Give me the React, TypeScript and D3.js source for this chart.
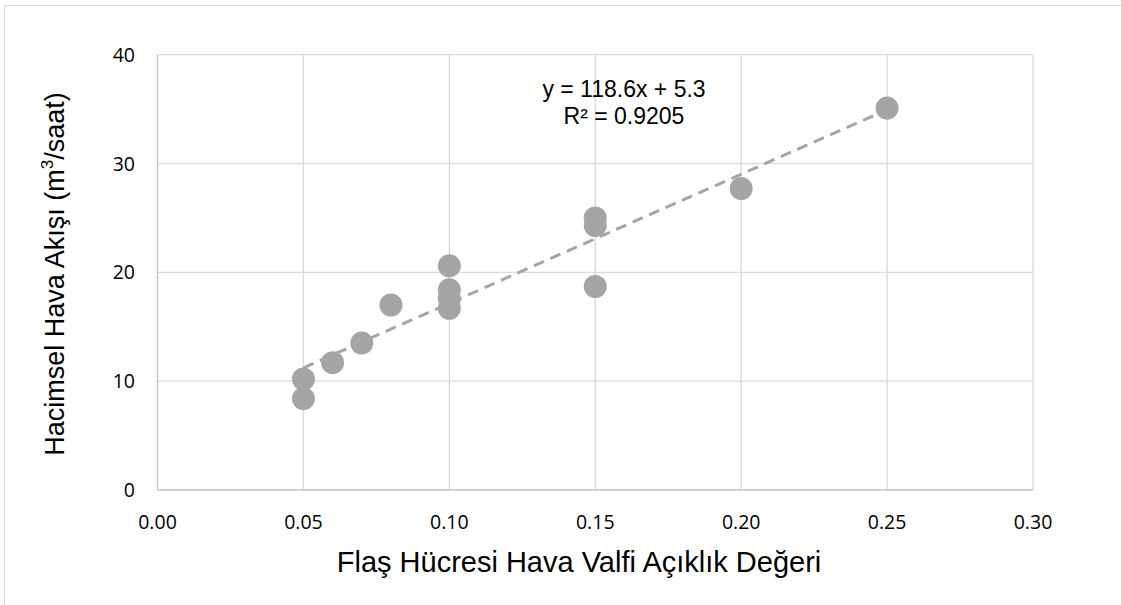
import React from "react";
import * as d3 from "d3";

const xValues = [0.05, 0.05, 0.06, 0.07, 0.08, 0.1, 0.1, 0.1, 0.1, 0.15, 0.15, 0.15, 0.2, 0.25];
const yValues = [10.2, 8.4, 11.7, 13.5, 17.0, 20.6, 18.4, 17.6, 16.7, 25.0, 24.3, 18.7, 27.7, 35.1];
const xTicks = [0, 0.05, 0.1, 0.15, 0.2, 0.25, 0.3];
const yTicks = [0, 10, 20, 30, 40];
const slope = 118.6;
const intercept = 5.3;
const equationText = "y = 118.6x + 5.3";
const r2Text = "R² = 0.9205";
const xTitle = "Flaş Hücresi Hava Valfi Açıklık Değeri";

export default function App() {
  const W = 1121, H = 605;
  const x = d3.scaleLinear().domain([0, 0.3]).range([157.5, 1033]);
  const y = d3.scaleLinear().domain([0, 40]).range([490, 54.7]);
  const grey = "#a5a5a5";
  const grid = "#d9d9d9";
  const xs = d3.extent(xValues) as [number, number];
  const line = d3.line<number>().x(d => x(d)).y(d => y(slope * d + intercept));
  const arial = "'Liberation Sans', Arial, sans-serif";
  return (
    <svg width={W} height={H} style={{ position: "absolute", left: 0, top: 0, background: "#fff" }}>
      <rect x={0} y={0} width={W} height={H} fill="#fff" />
      <rect x={4.5} y={5.5} width={W + 10} height={H + 10} fill="none" stroke="#d9d9d9" strokeWidth={1} />
      {yTicks.filter(t => t > 0).map(t => (
        <line key={"gy" + t} x1={x(0)} x2={x(0.3)} y1={y(t)} y2={y(t)} stroke={grid} strokeWidth={1.3} />
      ))}
      {xTicks.filter(t => t > 0).map(t => (
        <line key={"gx" + t} x1={x(t)} x2={x(t)} y1={y(0)} y2={y(40)} stroke={grid} strokeWidth={1.3} />
      ))}
      <line x1={x(0)} x2={x(0)} y1={y(0)} y2={y(40)} stroke="#bfbfbf" strokeWidth={1.3} />
      <line x1={x(0)} x2={x(0.3)} y1={y(0)} y2={y(0)} stroke="#bfbfbf" strokeWidth={1.3} />
      {yTicks.map(t => (
        <text key={"ty" + t} x={135} y={y(t) + 7} textAnchor="end" fontFamily="'Open Sans', sans-serif" fontSize={19.5} fill="#000">{t}</text>
      ))}
      {xTicks.map(t => (
        <text key={"tx" + t} x={x(t)} y={529} textAnchor="middle" fontFamily="'Open Sans', sans-serif" fontSize={19.5} fill="#000">{t.toFixed(2)}</text>
      ))}
      {xValues.map((v, i) => (
        <circle key={"p" + i} cx={x(v)} cy={y(yValues[i])} r={11.5} fill={grey} />
      ))}
      <path d={line(xs) || ""} fill="none" stroke={grey} strokeWidth={3} strokeDasharray="11,7" />
      <text x={624} y={97} textAnchor="middle" fontFamily={arial} fontSize={23} fill="#000">{equationText}</text>
      <text x={624} y={124} textAnchor="middle" fontFamily={arial} fontSize={23} fill="#000">{r2Text}</text>
      <text x={579} y={572} textAnchor="middle" fontFamily={arial} fontSize={29} fill="#000">{xTitle}</text>
      <text transform={`translate(64,274) rotate(-90)`} textAnchor="middle" fontFamily={arial} fontSize={27} fill="#000">
        Hacimsel Hava Akışı (m<tspan fontSize={17} dy={-11}>3</tspan><tspan dy={11}>/saat)</tspan>
      </text>
    </svg>
  );
}
